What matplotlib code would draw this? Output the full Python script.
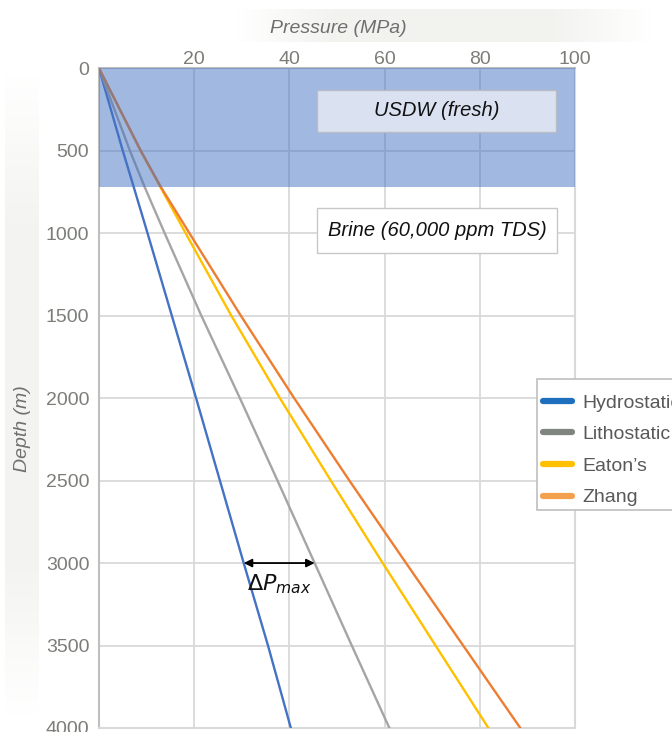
import numpy as np
import matplotlib
matplotlib.use("Agg")
import matplotlib.pyplot as plt
from matplotlib.lines import Line2D
from matplotlib.patches import Rectangle
from matplotlib.colors import LinearSegmentedColormap

# depth profile (m) and pressures (MPa)
depth = [0, 500, 720, 1000, 1500, 2000, 2500, 3000, 3500, 4000]
hydrostatic = [0, 5.0, 7.3, 10.2, 15.3, 20.4, 25.4, 30.4, 35.5, 40.3]
lithostatic = [0, 6.5, 9.6, 13.8, 21.5, 29.6, 37.5, 45.3, 53.1, 61.0]
eaton = [0, 8.7, 12.9, 18.2, 27.8, 38.0, 48.7, 59.6, 70.7, 81.8]
zhang = [0, 8.8, 13.0, 19.0, 29.8, 41.0, 52.6, 64.5, 76.5, 88.5]

series_names = ["Hydrostatic", "Lithostatic", "Eaton\u2019s", "Zhang"]
line_colors = ["#4472c4", "#a5a5a5", "#ffc000", "#ed7d31"]
legend_colors = ["#1f6fbf", "#7f857f", "#ffc000", "#f4a14f"]

usdw_bottom = 720          # base of fresh-water zone (m)
dp_depth = 3000            # depth of the delta-P arrow (m)

x_ticks = [0, 20, 40, 60, 80, 100]
x_labels = ["", "20", "40", "60", "80", "100"]
y_ticks = list(range(0, 4001, 500))

plt.rcParams["font.family"] = ["Liberation Sans", "DejaVu Sans"]
TICK_GRAY = "#7b7e78"
W, H = 672, 732

fig = plt.figure(figsize=(6.72, 7.32), dpi=100)

# faint title bands behind the axis titles
g = np.concatenate([np.linspace(0, 1, 50), np.ones(100), np.linspace(1, 0, 50)])
band = fig.add_axes([0.35, 0.943, 0.62, 0.045], zorder=-5)
band.imshow(g[None, :], aspect="auto", vmin=0, vmax=1,
            cmap=LinearSegmentedColormap.from_list("b", ["#ffffff", "#f2f3ef"]))
band.axis("off")
band2 = fig.add_axes([0.008, 0.02, 0.05, 0.88], zorder=-5)
band2.imshow(g[:, None], aspect="auto", vmin=0, vmax=1,
             cmap=LinearSegmentedColormap.from_list("b2", ["#ffffff", "#f3f4f1"]))
band2.axis("off")

ax = fig.add_axes([0.1473, 0.0055, 0.7084, 0.9012])

for vals, c in zip([hydrostatic, lithostatic, eaton, zhang], line_colors):
    ax.plot(vals, depth, color=c, lw=1.7, zorder=3)

# USDW shaded band over the lines
ax.axhspan(0, usdw_bottom, color="#4472c4", alpha=0.5, lw=0, zorder=4)

ax.set_xlim(0, 100)
ax.set_ylim(4000, 0)
ax.xaxis.tick_top()
ax.set_xticks(x_ticks)
ax.set_xticklabels(x_labels)
ax.set_yticks(y_ticks)
ax.tick_params(length=0, labelsize=14, colors=TICK_GRAY)
ax.tick_params(axis="x", pad=0.5)
ax.tick_params(axis="y", pad=7)
ax.grid(True, color="#d9d9d9", lw=1.3, zorder=0)
ax.set_axisbelow(True)
for side, sp in ax.spines.items():
    sp.set_color("#bfbfbf" if side in ("left", "top") else "#d9d9d9")
    sp.set_linewidth(1.5)

fig.text(0.504, 0.961, "Pressure (MPa)", fontsize=14, style="italic",
         color="#6f6f6f", ha="center", va="center")
fig.text(0.033, 0.415, "Depth (m)", fontsize=14, style="italic",
         color="#6f6f6f", ha="center", va="center", rotation=90)

# annotation boxes
ax.add_patch(Rectangle((45.9, 131), 50.1, 254, fc="#dae2f2", ec="#b8bcc4",
                       lw=1.0, zorder=5))
ax.text(71, 258, "USDW (fresh)", fontsize=14.5, style="italic", color="#111111",
        ha="center", va="center", zorder=6)
ax.add_patch(Rectangle((45.7, 845), 50.6, 272, fc="white", ec="#c8c8c8",
                       lw=1.0, zorder=5))
ax.text(71, 983, "Brine (60,000 ppm TDS)", fontsize=14.5, style="italic",
        color="#111111", ha="center", va="center", zorder=6)

# delta P arrow between hydrostatic and lithostatic
h_dp = np.interp(dp_depth, depth, hydrostatic)
l_dp = np.interp(dp_depth, depth, lithostatic)
ax.annotate("", xy=(l_dp, dp_depth), xytext=(h_dp, dp_depth),
            arrowprops=dict(arrowstyle="<|-|>", color="black", lw=1.3,
                            mutation_scale=12, shrinkA=0, shrinkB=0), zorder=7)
ax.text((h_dp + l_dp) / 2, dp_depth + 130, r"$\Delta P_{max}$", fontsize=16,
        ha="center", va="center", color="#111111", zorder=7,
        math_fontfamily="dejavusans")

# legend frame (runs off the right edge) and entries
fig.patches.append(Rectangle((537 / W, 1 - 510 / H), 0.3, 131 / H,
                             transform=fig.transFigure, fc="white",
                             ec="#bfbfbf", lw=1.2, zorder=1))
handles = [Line2D([0], [0], color=c, lw=4.5, solid_capstyle="round")
           for c in legend_colors]
leg = fig.legend(handles, series_names, loc="upper left",
                 bbox_to_anchor=(543 / W, 1 - 394 / H), borderaxespad=0,
                 frameon=False, fontsize=14, borderpad=0,
                 handlelength=1.5, handletextpad=0.55, labelspacing=0.72)
leg.set_zorder(2)
for t in leg.get_texts():
    t.set_color("#595959")

fig.savefig("out.png", dpi=100)
